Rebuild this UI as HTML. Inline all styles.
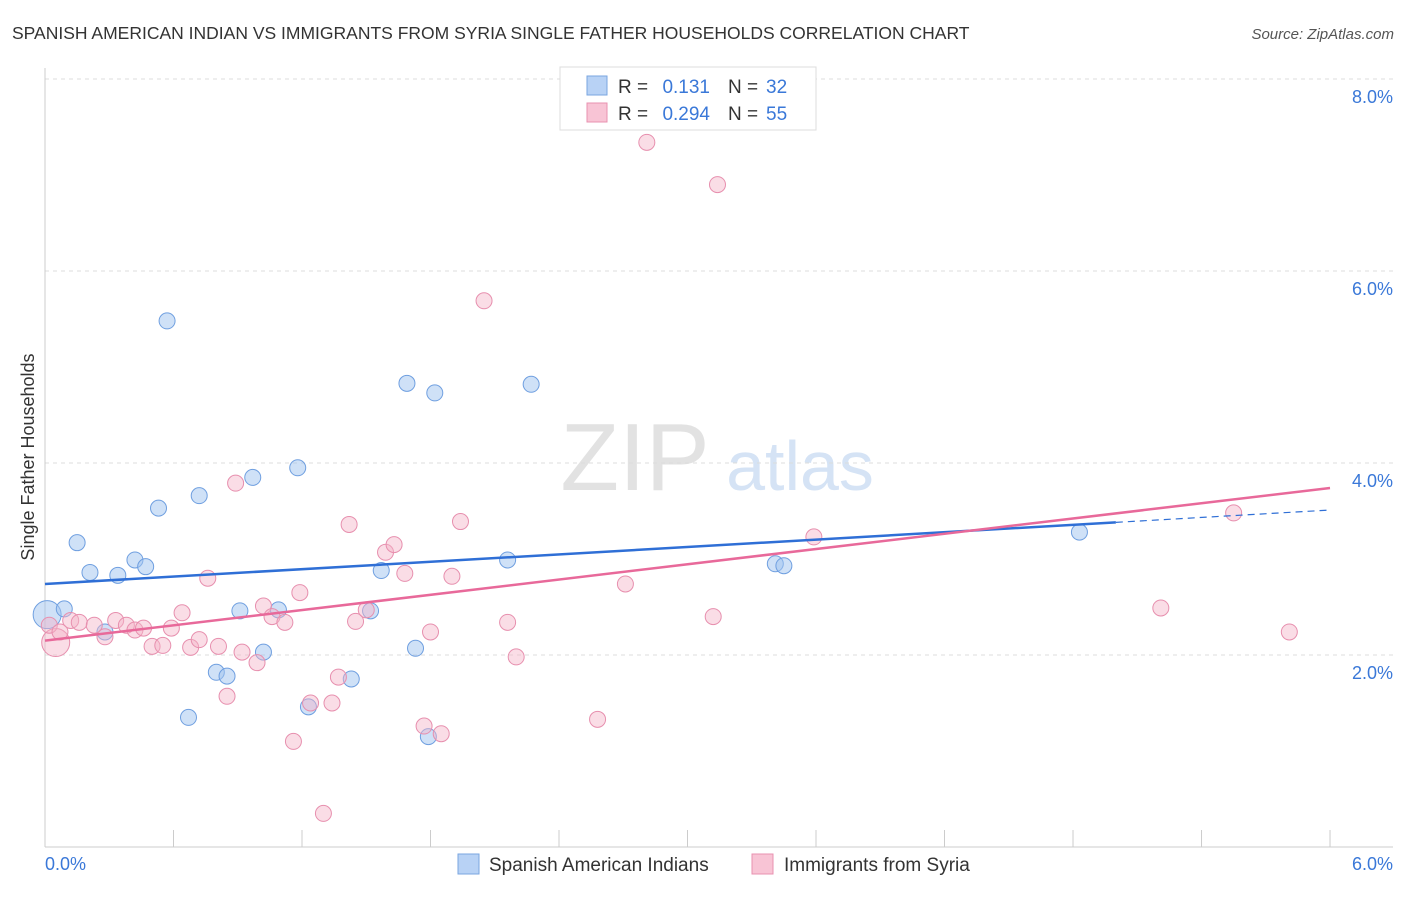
<!DOCTYPE html>
<html><head><meta charset="utf-8"><style>
body{margin:0;background:#fff;font-family:"Liberation Sans",sans-serif}
svg text{font-family:"Liberation Sans",sans-serif}
</style></head><body>
<svg id="chart" width="1406" height="892" viewBox="0 0 1406 892" xmlns="http://www.w3.org/2000/svg">
<text x="12" y="39" font-size="17.5" fill="#333">SPANISH AMERICAN INDIAN VS IMMIGRANTS FROM SYRIA SINGLE FATHER HOUSEHOLDS CORRELATION CHART</text>
<text x="1394" y="39" font-size="15" fill="#555" font-style="italic" text-anchor="end">Source: ZipAtlas.com</text>
<g>
<text x="635" y="490" font-size="96" fill="#e2e2e2" font-family="Liberation Serif, serif" text-anchor="middle">ZIP</text>
<text x="800" y="490" font-size="70" fill="#d5e3f5" text-anchor="middle">atlas</text>
</g>
<g id="grid"></g>
<g id="axes"></g>
<text transform="translate(34,457) rotate(-90)" font-size="18" fill="#333" text-anchor="middle">Single Father Households</text>
<g id="blue"></g>
<g id="pink"></g>
<g id="trends"></g>
<g>
<rect x="560" y="67" width="256" height="63" fill="#fff" stroke="#ddd"/>
<rect x="587" y="76" width="20" height="19" fill="#b8d2f5" stroke="#7aa6e0"/>
<text x="618" y="93" font-size="19" fill="#333">R =</text><text x="710" y="93" font-size="19" fill="#3a78d8" text-anchor="end">0.131</text>
<text x="728" y="93" font-size="19" fill="#333">N =</text><text x="766" y="93" font-size="19" fill="#3a78d8">32</text>
<rect x="587" y="103" width="20" height="19" fill="#f8c4d5" stroke="#e892b0"/>
<text x="618" y="120" font-size="19" fill="#333">R =</text><text x="710" y="120" font-size="19" fill="#3a78d8" text-anchor="end">0.294</text>
<text x="728" y="120" font-size="19" fill="#333">N =</text><text x="766" y="120" font-size="19" fill="#3a78d8">55</text>
</g>
<g>
<rect x="458" y="854" width="21" height="20" fill="#b8d2f5" stroke="#7aa6e0"/>
<text x="489" y="871" font-size="19" fill="#333">Spanish American Indians</text>
<rect x="752" y="854" width="21" height="20" fill="#f8c4d5" stroke="#e892b0"/>
<text x="784" y="871" font-size="19" fill="#333">Immigrants from Syria</text>
</g>
</svg>
<script>
const yTicks=[2,4,6,8];
const yTickLabels=["2.0%","4.0%","6.0%","8.0%"];
const xTickCount=10;
const blueX=[0.01,0.09,0.15,0.21,0.28,0.34,0.42,0.47,0.53,0.57,0.67,0.72,0.80,0.85,0.91,0.97,1.02,1.09,1.18,1.23,1.43,1.52,1.57,1.69,1.73,1.79,1.82,2.16,2.27,3.41,3.45,4.83];
const blueY=[2.42,2.48,3.17,2.86,2.24,2.83,2.99,2.92,3.53,5.48,1.35,3.66,1.82,1.78,2.46,3.85,2.03,2.47,3.95,1.46,1.75,2.46,2.88,4.83,2.07,1.15,4.73,2.99,4.82,2.95,2.93,3.28];
const pinkX=[0.05,0.02,0.12,0.16,0.23,0.28,0.33,0.38,0.42,0.46,0.50,0.55,0.59,0.64,0.68,0.72,0.76,0.81,0.85,0.89,0.92,0.99,1.02,1.06,1.12,1.16,1.19,1.24,1.30,1.34,1.37,1.42,1.45,1.50,1.59,1.63,1.68,1.77,1.80,1.85,1.90,1.94,2.05,2.16,2.20,2.58,2.71,2.81,3.12,3.14,3.59,5.21,5.55,5.81,0.07];
const pinkY=[2.13,2.31,2.36,2.34,2.31,2.19,2.36,2.31,2.26,2.28,2.09,2.10,2.28,2.44,2.08,2.16,2.80,2.09,1.57,3.79,2.03,1.92,2.51,2.40,2.34,1.10,2.65,1.50,0.35,1.50,1.77,3.36,2.35,2.47,3.07,3.15,2.85,1.26,2.24,1.18,2.82,3.39,5.69,2.34,1.98,1.33,2.74,7.34,2.40,6.90,3.23,2.49,3.48,2.24,2.24];
const blueTrend=[2.74,3.51];
const pinkTrend=[2.15,3.74];
const NS="http://www.w3.org/2000/svg";
const X=v=>45+v*214.17, Y=v=>847-v*96;
function mk(tag,attrs,parent){const e=document.createElementNS(NS,tag);for(const k in attrs)e.setAttribute(k,attrs[k]);parent.appendChild(e);return e;}
const grid=document.getElementById('grid'),axes=document.getElementById('axes');
yTicks.forEach((t,i)=>{
 const l=mk('line',{x1:45,x2:1393,y1:Y(t),y2:Y(t),stroke:'#dcdcdc','stroke-dasharray':'4,4'},grid);
 
 
 const tx=mk('text',{x:1393,y:Y(t)+24,'font-size':18,fill:'#3a78d8','text-anchor':'end'},axes);
 tx.textContent=yTickLabels[i];
 
 
});
mk('line',{x1:45,x2:45,y1:68,y2:847,stroke:'#ccc'},axes);
mk('line',{x1:45,x2:1393,y1:847,y2:847,stroke:'#ccc'},axes);
for(let i=1;i<=xTickCount;i++){const x=X(i*0.6);const tk=mk('line',{x1:x,x2:x,y1:830,y2:847,stroke:'#ccc'},axes);
 
 }
const x0=mk('text',{x:45,y:870,'font-size':18,fill:'#3a78d8'},axes);x0.textContent='0.0%';


const x6=mk('text',{x:1393,y:870,'font-size':18,fill:'#3a78d8','text-anchor':'end'},axes);x6.textContent='6.0%';


const bg=document.getElementById('blue'),pg=document.getElementById('pink');
blueX.forEach((v,i)=>{const c=mk('circle',{cx:X(v),cy:Y(blueY[i]),r:i===0?14:8,fill:'rgba(160,195,240,0.5)',stroke:'#6f9fe0','stroke-width':1},bg);
 
 });
pinkX.forEach((v,i)=>{const c=mk('circle',{cx:X(v),cy:Y(pinkY[i]),r:i===0?14:8,fill:'rgba(245,180,200,0.45)',stroke:'#e78fae','stroke-width':1},pg);
 
 });
const tg=document.getElementById('trends');
const bAt=x=>blueTrend[0]+(blueTrend[1]-blueTrend[0])*x/6;
const b1=mk('line',{x1:X(0),y1:Y(bAt(0)),x2:X(5),y2:Y(bAt(5)),stroke:'#2f6fd6','stroke-width':2.5},tg);


const b2=mk('line',{x1:X(5),y1:Y(bAt(5)),x2:X(6),y2:Y(bAt(6)),stroke:'#2f6fd6','stroke-width':1.2,'stroke-dasharray':'7,5'},tg);


const p1=mk('line',{x1:X(0),y1:Y(pinkTrend[0]),x2:X(6),y2:Y(pinkTrend[1]),stroke:'#e8699a','stroke-width':2.5},tg);


</script>
</body></html>
